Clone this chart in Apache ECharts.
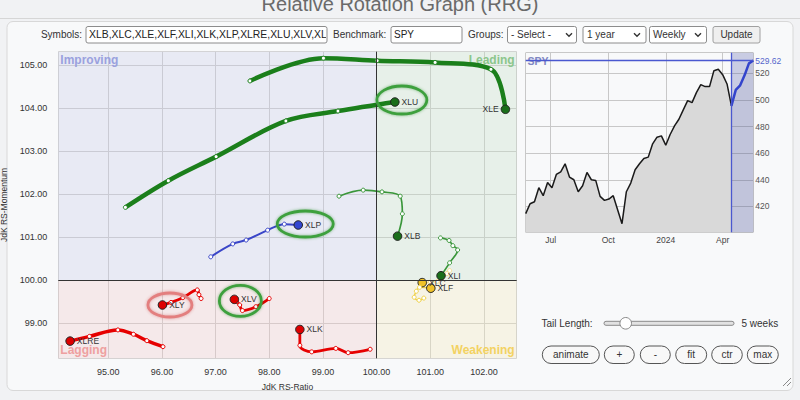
<!DOCTYPE html>
<html><head><meta charset="utf-8">
<script src="https://cdn.jsdelivr.net/npm/echarts@6/dist/echarts.min.js"></script>
<style>html,body{margin:0;padding:0;background:#f1f2f4;}#c{width:800px;height:400px;}</style>
</head><body><div id="c"></div>
<script>
// ---------- RRG data (JdK RS-Ratio, JdK RS-Momentum), oldest -> newest ----------
const RATIO_RANGE = [94.07, 102.61];
const MOMENTUM_RANGE = [98.18, 105.31];
const CENTER = 100;

const XLE  = [[97.64,104.63],[99.01,105.16],[100.01,105.10],[101.09,105.06],[102.13,104.90],[102.40,103.97]];
const XLU  = [[95.32,101.69],[96.12,102.31],[97.01,102.87],[98.31,103.70],[99.28,103.93],[100.34,104.14]];
const XLP  = [[96.91,100.54],[97.32,100.84],[97.57,100.93],[97.97,101.16],[98.28,101.30],[98.54,101.28]];
const XLB  = [[99.30,101.95],[99.75,102.09],[100.10,102.05],[100.44,101.95],[100.48,101.54],[100.39,101.02]];
const XLI  = [[101.19,100.98],[101.35,100.92],[101.42,100.80],[101.51,100.70],[101.36,100.40],[101.20,100.10]];
const XLC  = [[101.36,100.22],[101.31,100.15],[101.22,100.05],[101.13,99.97],[101.00,99.95],[100.85,99.94]];
const XLF  = [[100.88,99.58],[100.79,99.53],[100.70,99.60],[100.74,99.74],[100.80,99.83],[101.01,99.81]];
const XLK  = [[99.88,98.39],[99.47,98.31],[99.24,98.41],[98.79,98.33],[98.57,98.48],[98.57,98.85]];
const XLV  = [[98.00,99.57],[97.75,99.38],[97.50,99.29],[97.45,99.42],[97.39,99.50],[97.35,99.55]];
const XLY  = [[96.73,99.57],[96.69,99.66],[96.66,99.77],[96.39,99.59],[96.17,99.48],[96.01,99.42]];
const XLRE = [[96.02,98.45],[95.72,98.59],[95.47,98.74],[95.18,98.84],[94.65,98.69],[94.29,98.58]];

const TAILS = {XLE, XLU, XLP, XLB, XLI, XLC, XLF, XLK, XLV, XLY, XLRE};
const DRAW_ORDER = ['XLRE','XLY','XLV','XLK','XLP','XLB','XLC','XLI','XLF','XLE','XLU'];
const HIGHLIGHTED = ['XLU','XLP','XLY','XLV'];
const QUADRANTS = ['Improving','Leading','Lagging','Weakening'];

// ---------- SPY weekly closes ----------
const SPY_DATES = ['2023-05-22','2023-05-29','2023-06-05','2023-06-12','2023-06-19','2023-06-26','2023-07-03','2023-07-10','2023-07-17','2023-07-24','2023-07-31','2023-08-07','2023-08-14','2023-08-21','2023-08-28','2023-09-04','2023-09-11','2023-09-18','2023-09-25','2023-10-02','2023-10-09','2023-10-16','2023-10-23','2023-10-30','2023-11-06','2023-11-13','2023-11-20','2023-11-27','2023-12-04','2023-12-11','2023-12-18','2023-12-25','2024-01-01','2024-01-08','2024-01-15','2024-01-22','2024-01-29','2024-02-05','2024-02-12','2024-02-19','2024-02-26','2024-03-04','2024-03-11','2024-03-18','2024-03-25','2024-04-01','2024-04-08','2024-04-15','2024-04-22','2024-04-29','2024-05-06','2024-05-13','2024-05-20'];
const SPY_CLOSE = [414.5,422,423.5,434,428,438,434,444,446,452,442,440,431,435.5,445.5,440,439.5,427.5,424.5,425.5,428,417.5,407,431,437.5,447.5,452,456,457,467,472,473,466,474,480.5,485.5,492.5,499.5,498,505.5,511.5,510,510,522,523,519,512,495.5,507.5,511,518.5,527.5,529.62];
const TAIL_WEEKS = 5;
const SPY_RANGE = [400.5, 535.5];
const MONTHS = ['Jan','Feb','Mar','Apr','May','Jun','Jul','Aug','Sep','Oct','Nov','Dec'];

// ---------- styles ----------
const FONT = '"Liberation Sans", Arial, sans-serif';
const STYLE = {
  XLE:{line:'#1b7f1b', head:'#1a6e1a', width:4.5, pos:'left'},
  XLU:{line:'#1b7f1b', head:'#1a6e1a', width:4.5, pos:'right'},
  XLP:{line:'#3a46c8', head:'#3346d0', width:2, pos:'right'},
  XLB:{line:'#3a963a', head:'#1a6e1a', width:1.7, pos:'right'},
  XLI:{line:'#3a963a', head:'#1a6e1a', width:1.7, pos:'right'},
  XLC:{line:'#f6df8c', head:'#f0c22a', width:1.5, pos:'right'},
  XLF:{line:'#f0d24a', head:'#f0c22a', width:1.5, pos:'right'},
  XLK:{line:'#e60000', head:'#dd0000', width:2.8, pos:'right'},
  XLV:{line:'#e60000', head:'#dd0000', width:2.8, pos:'right'},
  XLY:{line:'#e60000', head:'#dd0000', width:2.8, pos:'right'},
  XLRE:{line:'#e60000', head:'#dd0000', width:3.5, pos:'right'}
};
const RING = {
  XLU:{dx:7, dy:-2, rx:25, ry:14, color:'#3ea03e', shadow:'rgba(0,120,0,0.45)'},
  XLP:{dx:7, dy:-1, rx:28, ry:13, color:'#3ea03e', shadow:'rgba(0,120,0,0.45)'},
  XLY:{dx:7.5, dy:0, rx:22, ry:12, color:'#e37f7f', shadow:'rgba(200,60,60,0.45)'},
  XLV:{dx:6, dy:1.5, rx:21, ry:15.5, color:'#3ea03e', shadow:'rgba(0,120,0,0.45)'}
};
const QSTYLE = {
  Improving:{bg:'rgba(110,120,200,0.11)', fg:'#9aa1de', pos:'insideTopLeft'},
  Leading:{bg:'rgba(90,165,90,0.10)', fg:'#8cc68c', pos:'insideTopRight'},
  Lagging:{bg:'rgba(230,100,100,0.10)', fg:'#eea0a0', pos:'insideBottomLeft'},
  Weakening:{bg:'rgba(235,210,90,0.13)', fg:'#f3d262', pos:'insideBottomRight'}
};

const chart = echarts.init(document.getElementById('c'), null, {renderer:'svg'});

function tailSeries(name){
  const pts = TAILS[name], st = STYLE[name];
  return {
    type:'line', name, xAxisIndex:0, yAxisIndex:0, smooth:0.35, clip:true, silent:true,
    showAllSymbol:true, symbol:'circle', symbolSize:4,
    lineStyle:{color:st.line, width:st.width},
    itemStyle:{color:'#fff', borderColor:st.line, borderWidth:1},
    emphasis:{disabled:true},
    z:3,
    data: pts.map((p,i)=> i===pts.length-1 ? {
      value:p, symbolSize:8.5,
      itemStyle:{color:st.head, borderColor:'#222', borderWidth:1},
      label:{show:true, position:st.pos, distance:2, formatter:name, color:'#333', fontSize:8.5, fontFamily:FONT}
    } : {value:p})
  };
}

const quadBounds = {
  Improving:[[RATIO_RANGE[0],CENTER],[CENTER,MOMENTUM_RANGE[1]]],
  Leading:[[CENTER,CENTER],[RATIO_RANGE[1],MOMENTUM_RANGE[1]]],
  Lagging:[[RATIO_RANGE[0],MOMENTUM_RANGE[0]],[CENTER,CENTER]],
  Weakening:[[CENTER,MOMENTUM_RANGE[0]],[RATIO_RANGE[1],CENTER]]
};

const backgroundSeries = {
  type:'line', xAxisIndex:0, yAxisIndex:0, data:[], silent:true, z:1,
  markArea:{
    silent:true,
    data: QUADRANTS.map(q=>[
      {name:q, xAxis:quadBounds[q][0][0], yAxis:quadBounds[q][0][1], itemStyle:{color:QSTYLE[q].bg},
       label:{show:true, position:QSTYLE[q].pos, distance:2, color:QSTYLE[q].fg, fontWeight:'bold', fontSize:12, fontFamily:FONT}},
      {xAxis:quadBounds[q][1][0], yAxis:quadBounds[q][1][1]}
    ])
  },
  markLine:{
    silent:true, symbol:['none','none'], label:{show:false},
    lineStyle:{color:'#333', width:1, type:'solid'},
    data:[{xAxis:CENTER},{yAxis:CENTER}]
  }
};

const ringSeries = {
  type:'custom', xAxisIndex:0, yAxisIndex:0, silent:true, z:10, clip:false,
  data: HIGHLIGHTED.map(s=>TAILS[s][TAILS[s].length-1]),
  renderItem:(params, api)=>{
    const r = RING[HIGHLIGHTED[params.dataIndex]];
    const p = api.coord([api.value(0), api.value(1)]);
    return {type:'ellipse', shape:{cx:p[0]+r.dx, cy:p[1]+r.dy, rx:r.rx, ry:r.ry},
      style:{fill:'none', stroke:r.color, lineWidth:2.8, shadowBlur:3, shadowColor:r.shadow}};
  }
};

const tailStart = SPY_CLOSE.length-1-TAIL_WEEKS;
const spyPairs = SPY_DATES.map((d,i)=>[d, SPY_CLOSE[i]]);
const spyHistory = {
  type:'line', xAxisIndex:1, yAxisIndex:1, symbol:'none', silent:true,
  lineStyle:{color:'#1a1a1a', width:1.5},
  areaStyle:{color:'#d9d9d9', opacity:1},
  data: spyPairs.slice(0, tailStart+1), z:2
};
const spyTail = {
  type:'line', xAxisIndex:1, yAxisIndex:1, symbol:'none', silent:true,
  lineStyle:{color:'#3344cc', width:2.5},
  areaStyle:{color:'rgba(0,0,0,0.05)'},
  data: spyPairs.slice(tailStart), z:3,
  markArea:{silent:true, itemStyle:{color:'rgba(80,90,170,0.28)'},
    data:[[{xAxis:SPY_DATES[tailStart]},{xAxis:SPY_DATES[SPY_DATES.length-1]}]]},
  markLine:{silent:true, symbol:['none','none'], lineStyle:{color:'#4a58d0', width:1.3, type:'solid'},
    data:[
      {xAxis:SPY_DATES[tailStart], label:{show:false}},
      {yAxis:SPY_CLOSE[SPY_CLOSE.length-1], label:{show:true, position:'end', distance:2, formatter:p=>p.value.toFixed(2), color:'#5566cc', fontSize:8.5, fontFamily:FONT}}
    ]}
};

// ---------- UI (form controls, drawn as graphics) ----------
function box(x,y,w,h,fill,stroke,r){return {type:'rect', shape:{x,y,width:w,height:h,r:r||0}, style:{fill, stroke, lineWidth:1}, silent:true};}
function txt(x,y,text,opt){opt=opt||{};return {type:'text', x, y, silent:true, style:{text, fill:opt.color||'#333', font:(opt.weight||'normal')+' '+(opt.size||10)+'px '+FONT, align:opt.align||'left', verticalAlign:'middle'}};}
function chevron(x,y){return {type:'polyline', shape:{points:[[x-3,y-1.5],[x,y+1.5],[x+3,y-1.5]]}, style:{stroke:'#333', lineWidth:1.4, fill:'none'}, silent:true};}
function pill(x,w,label){return [box(x,346,w,17.5,'#f8f8f8','#555',9), txt(x+w/2,354.8,label,{align:'center',size:10})];}

const graphics = [
  txt(400,4,'Relative Rotation Graph (RRG)',{align:'center',size:20,color:'#6a6a6a'}),
  {type:'line', shape:{x1:0,y1:18.5,x2:800,y2:18.5}, style:{stroke:'#d6d6d6', lineWidth:1}, silent:true},
  box(7,21.5,786,369,'#f8f9fa','#d8d8d8',6),
  txt(82,34.7,'Symbols:',{align:'right'}),
  box(86,26.5,241,16.5,'#fff','#8c8c8c',2),
  {type:'group', silent:true, clipPath:{type:'rect', shape:{x:87,y:27,width:239,height:15}},
   children:[txt(89,34.8,'XLB,XLC,XLE,XLF,XLI,XLK,XLP,XLRE,XLU,XLV,XLY',{size:10.4,color:'#222'})]},
  txt(333,34.7,'Benchmark:'),
  box(391,26.5,71,16.5,'#fff','#8c8c8c',2),
  txt(394,34.8,'SPY',{color:'#222'}),
  txt(468,34.7,'Groups:'),
  box(507.5,26.5,69,16.5,'#fff','#8c8c8c',2),
  txt(511,34.8,'- Select -'),
  chevron(569,34.8),
  box(583,26.5,63,16.5,'#fff','#8c8c8c',2),
  txt(587,34.8,'1 year'),
  chevron(637,34.8),
  box(649.5,26.5,57,16.5,'#fff','#8c8c8c',2),
  txt(653,34.8,'Weekly'),
  chevron(698,34.8),
  box(713,26.5,47,16.5,'#efefef','#a0a0a0',2),
  txt(736.5,34.8,'Update',{align:'center'}),
  txt(541.5,323.5,'Tail Length:'),
  box(604,321.3,130,4,'#e2e2e2','#8a8a8a',2),
  {type:'circle', shape:{cx:625.7,cy:323.3,r:5.8}, style:{fill:'#fff', stroke:'#888', lineWidth:1}, silent:true},
  txt(741.5,323.5,TAIL_WEEKS+' weeks'),
  ...pill(542.3,57,'animate'), ...pill(604.3,30,'+'), ...pill(640.3,30,'-'),
  ...pill(675.7,31,'fit'), ...pill(711.7,30.6,'ctr'), ...pill(747.3,31,'max'),
  {type:'line', shape:{x1:783,y1:386,x2:791,y2:378}, style:{stroke:'#8a8a8a', lineWidth:1}, silent:true},
  {type:'line', shape:{x1:787,y1:386,x2:791,y2:382}, style:{stroke:'#8a8a8a', lineWidth:1}, silent:true},
  txt(527.5,60.7,'SPY',{weight:'bold',size:10.5,color:'#8087c2'})
];

chart.setOption({
  animation:false,
  backgroundColor:'#f1f2f4',
  textStyle:{fontFamily:FONT},
  grid:[
    {left:58.3, top:51.7, width:458.4, height:306.6, show:true, borderColor:'#444', borderWidth:1, backgroundColor:'#fff', outerBoundsMode:'none'},
    {left:525.7, top:52.7, width:227.6, height:179.6, show:true, borderColor:'#444', borderWidth:1, backgroundColor:'#f5f5f5', outerBoundsMode:'none'}
  ],
  xAxis:[
    {type:'value', gridIndex:0, min:RATIO_RANGE[0], max:RATIO_RANGE[1], minInterval:1, maxInterval:1,
     name:'JdK RS-Ratio', nameLocation:'middle', nameGap:24, nameTextStyle:{color:'#333', fontSize:8.5, fontFamily:FONT},
     axisLine:{show:false}, axisTick:{show:false},
     axisLabel:{color:'#333', fontSize:9, margin:9, showMinLabel:false, showMaxLabel:false, formatter:v=>v.toFixed(2)},
     splitLine:{show:true, lineStyle:{color:'#d6d6d6', width:1}}},
    {type:'time', gridIndex:1, min:SPY_DATES[0], max:SPY_DATES[SPY_DATES.length-1], splitNumber:4,
     axisLine:{show:false}, axisTick:{show:false},
     axisLabel:{color:'#444', fontSize:8.5, margin:3, showMinLabel:false, showMaxLabel:false,
       formatter:v=>{const d=new Date(v); return d.getMonth()===0 ? String(d.getFullYear()) : MONTHS[d.getMonth()];}},
     splitLine:{show:true, lineStyle:{color:'#c8c8c8', width:1}}}
  ],
  yAxis:[
    {type:'value', gridIndex:0, min:MOMENTUM_RANGE[0], max:MOMENTUM_RANGE[1], minInterval:1, maxInterval:1,
     name:'JdK RS-Momentum', nameLocation:'middle', nameGap:41, nameTextStyle:{color:'#333', fontSize:8.5, fontFamily:FONT},
     axisLine:{show:false}, axisTick:{show:false},
     axisLabel:{color:'#333', fontSize:9, margin:11, showMinLabel:false, showMaxLabel:false, formatter:v=>v.toFixed(2)},
     splitLine:{show:true, lineStyle:{color:'#d6d6d6', width:1}}},
    {type:'value', gridIndex:1, position:'right', min:SPY_RANGE[0], max:SPY_RANGE[1], minInterval:20, maxInterval:20,
     axisLine:{show:false}, axisTick:{show:false},
     axisLabel:{color:'#555', fontSize:8.5, margin:2, showMinLabel:false, showMaxLabel:false},
     splitLine:{show:true, lineStyle:{color:'#c8c8c8', width:1}}}
  ],
  graphic: graphics,
  series:[backgroundSeries, ...DRAW_ORDER.map(tailSeries), ringSeries, spyHistory, spyTail]
});
</script></body></html>
